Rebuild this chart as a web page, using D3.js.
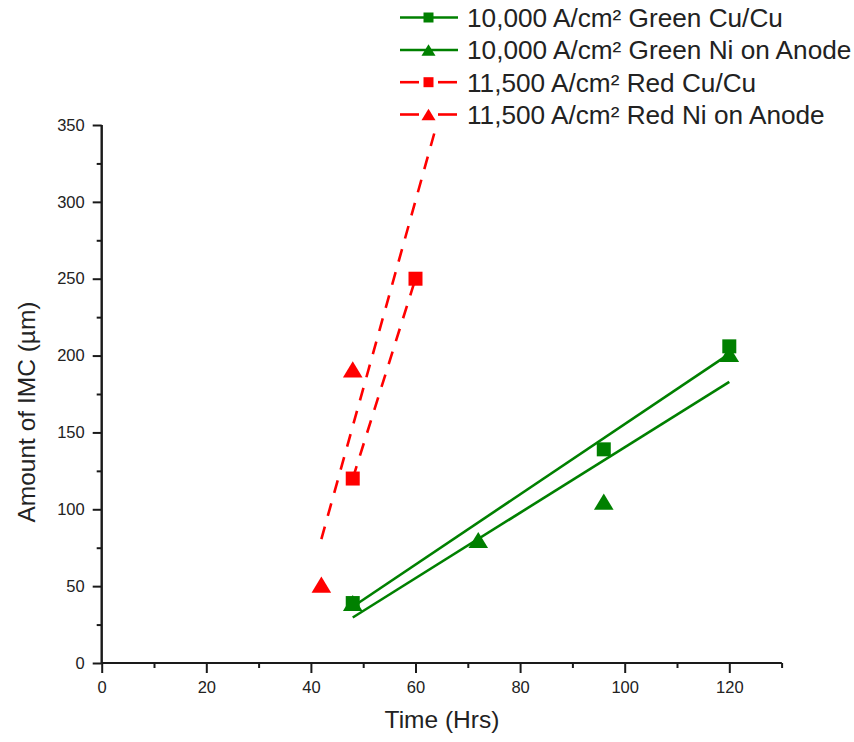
<!DOCTYPE html>
<html>
<head>
<meta charset="utf-8">
<script src="https://cdn.jsdelivr.net/npm/d3@7"></script>
<style>
  html, body { margin: 0; padding: 0; background: #fff; }
  svg { display: block; font-family: "Liberation Sans", Arial, sans-serif; }
</style>
</head>
<body>
<svg id="chart" width="854" height="742"></svg>
<script>
// ---- data ----
const greenCuX = [48, 96, 120];
const greenCuY = [39, 139, 206];
const greenNiX = [48, 72, 96, 120];
const greenNiY = [39, 80, 105, 201];
const redCuX = [48, 60];
const redCuY = [120, 250];
const redNiX = [42, 48, 72];
const redNiY = [51, 191, 440];

const seriesNames = [
  "10,000 A/cm\u00B2 Green Cu/Cu",
  "10,000 A/cm\u00B2 Green Ni on Anode",
  "11,500 A/cm\u00B2 Red Cu/Cu",
  "11,500 A/cm\u00B2 Red Ni on Anode"
];
const xMajorTicks = [0, 20, 40, 60, 80, 100, 120];
const xMinorTicks = [10, 30, 50, 70, 90, 110, 130];
const yMajorTicks = [0, 50, 100, 150, 200, 250, 300, 350];
const yMinorTicks = [25, 75, 125, 175, 225, 275, 325];

// ---- setup ----
const svg = d3.select("#chart");
const GREEN = "#008000", RED = "#ff0000";
const series = [
  { name: seriesNames[0], xs: greenCuX, ys: greenCuY, color: GREEN, shape: "square", dashed: false },
  { name: seriesNames[1], xs: greenNiX, ys: greenNiY, color: GREEN, shape: "triangle", dashed: false },
  { name: seriesNames[2], xs: redCuX, ys: redCuY, color: RED, shape: "square", dashed: true },
  { name: seriesNames[3], xs: redNiX, ys: redNiY, color: RED, shape: "triangle", dashed: true }
];

const x = d3.scaleLinear().domain([0, 130]).range([101.7, 781.6]);
const y = d3.scaleLinear().domain([0, 350]).range([663, 125]);

svg.append("defs").append("clipPath").attr("id", "plotclip")
  .append("rect")
  .attr("x", x(0)).attr("y", y(350))
  .attr("width", x(130) - x(0)).attr("height", y(0) - y(350));

function fit(xs, ys) {
  const mx = d3.mean(xs), my = d3.mean(ys);
  let sxy = 0, sxx = 0;
  xs.forEach((v, i) => { sxy += (v - mx) * (ys[i] - my); sxx += (v - mx) * (v - mx); });
  const b = sxy / sxx, a = my - b * mx;
  const x0 = d3.min(xs), x1 = d3.max(xs);
  return [[x0, a + b * x0], [x1, a + b * x1]];
}

function markerPath(shape, cx, cy, s) {
  if (shape === "square") {
    const h = s / 2;
    return `M${cx - h},${cy - h}H${cx + h}V${cy + h}H${cx - h}Z`;
  }
  const w = s * 1.4, ht = s * 1.15;
  return `M${cx},${cy - ht / 2}L${cx + w / 2},${cy + ht / 2}L${cx - w / 2},${cy + ht / 2}Z`;
}

// ---- fit lines ----
const line = d3.line().x(d => x(d[0])).y(d => y(d[1]));
const gLines = svg.append("g").attr("clip-path", "url(#plotclip)");
series.forEach(s => {
  gLines.append("path")
    .attr("d", line(fit(s.xs, s.ys)))
    .attr("fill", "none")
    .attr("stroke", s.color)
    .attr("stroke-width", 2.6)
    .attr("stroke-dasharray", s.dashed ? "13,11" : null);
});

// ---- markers (triangles first, squares on top) ----
const gMarks = svg.append("g").attr("clip-path", "url(#plotclip)");
["triangle", "square"].forEach(shape => {
  series.filter(s => s.shape === shape).forEach(s => {
    gMarks.selectAll(null)
      .data(s.xs.map((v, i) => [v, s.ys[i]]))
      .enter().append("path")
      .attr("d", d => markerPath(shape, x(d[0]), y(d[1]), 14))
      .attr("fill", s.color);
  });
});

// ---- axes ----
const axisColor = "#1a1a1a";
const gx = svg.append("g").attr("transform", `translate(0,${y(0)})`)
  .call(d3.axisBottom(x).tickValues(xMajorTicks).tickSize(10).tickPadding(8).tickFormat(d3.format("d")));
const gxm = svg.append("g").attr("transform", `translate(0,${y(0)})`)
  .call(d3.axisBottom(x).tickValues(xMinorTicks).tickSize(5).tickFormat(""));
const gy = svg.append("g").attr("transform", `translate(${x(0)},0)`)
  .call(d3.axisLeft(y).tickValues(yMajorTicks).tickSize(9).tickPadding(8).tickFormat(d3.format("d")));
const gym = svg.append("g").attr("transform", `translate(${x(0)},0)`)
  .call(d3.axisLeft(y).tickValues(yMinorTicks).tickSize(5).tickFormat(""));

[gx, gxm, gy, gym].forEach(g => {
  g.select(".domain").attr("stroke", axisColor).attr("stroke-width", 2)
    .attr("d", g === gx || g === gxm ? `M${x(0)},0H${x(130)}` : `M0,${y(0)}V${y(350)}`);
  g.selectAll(".tick line").attr("stroke", axisColor).attr("stroke-width", 2);
  g.selectAll(".tick text").attr("fill", "#222").attr("font-size", 16.5)
    .attr("font-family", "'Liberation Sans', Arial, sans-serif");
});

// axis titles
svg.append("text")
  .attr("x", 442).attr("y", 728)
  .attr("text-anchor", "middle").attr("font-size", 24.5).attr("fill", "#222")
  .text("Time (Hrs)");
svg.append("text")
  .attr("transform", `translate(35,${412}) rotate(-90)`)
  .attr("text-anchor", "middle").attr("font-size", 24.5).attr("fill", "#222")
  .text("Amount of IMC (\u00B5m)");

// ---- legend ----
const legendRowsY = [17.5, 50, 82.2, 114.5];
const gLeg = svg.append("g");
series.forEach((s, i) => {
  const cy = legendRowsY[i];
  if (s.dashed) {
    gLeg.append("line").attr("x1", 400).attr("x2", 419).attr("y1", cy).attr("y2", cy)
      .attr("stroke", s.color).attr("stroke-width", 2.6);
    gLeg.append("line").attr("x1", 438).attr("x2", 457).attr("y1", cy).attr("y2", cy)
      .attr("stroke", s.color).attr("stroke-width", 2.6);
  } else {
    gLeg.append("line").attr("x1", 400).attr("x2", 458).attr("y1", cy).attr("y2", cy)
      .attr("stroke", s.color).attr("stroke-width", 2.6);
  }
  gLeg.append("path").attr("d", markerPath(s.shape, 428.5, cy, 10)).attr("fill", s.color);
  gLeg.append("text").attr("x", 467).attr("y", cy + 9.3)
    .attr("font-size", 26.2).attr("fill", "#222").text(s.name);
});
</script>
</body>
</html>
